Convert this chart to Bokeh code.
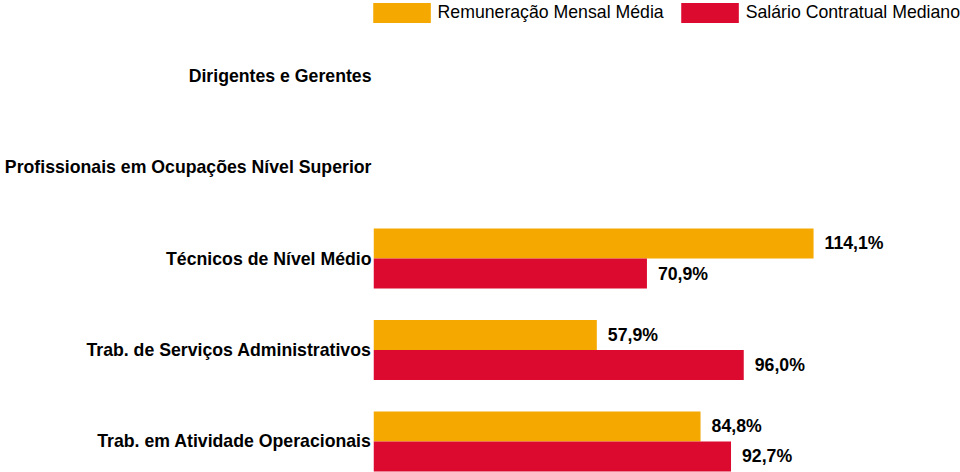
from bokeh.plotting import figure
from bokeh.resources import INLINE
from bokeh.embed import file_html
from bokeh.models import ColumnDataSource, Range1d, FixedTicker, Legend, LegendItem
from bokeh.transform import dodge
from bokeh.core.properties import value

nan = float("nan")

categorias = [
    "Dirigentes e Gerentes",
    "Profissionais em Ocupações Nível Superior",
    "Técnicos de Nível Médio",
    "Trab. de Serviços Administrativos",
    "Trab. em Atividade Operacionais",
]
remuneracao_media = [nan, nan, 114.1, 57.9, 84.8]
salario_mediano = [nan, nan, 70.9, 96.0, 92.7]
series = ["Remuneração Mensal Média", "Salário Contratual Mediano"]

LARANJA = "#F5A800"
VERMELHO = "#DC0A2E"
FONTE = "Liberation Sans"
TAM = "17.7px"


def rotulo(v):
    if v != v:
        return ""
    return f"{v:.1f}".replace(".", ",") + "%"


# categorias de cima para baixo
pos = [len(categorias) - 1 - i for i in range(len(categorias))]

src = ColumnDataSource(data=dict(
    pos=pos,
    rem=remuneracao_media,
    sal=salario_mediano,
    rem_txt=[rotulo(v) for v in remuneracao_media],
    sal_txt=[rotulo(v) for v in salario_mediano],
))

p = figure(width=960, height=472, output_backend="svg", toolbar_location=None,
           x_range=Range1d(0, 152.2), y_range=Range1d(-0.339, 4.82),
           x_axis_location=None, min_border_left=373, min_border_right=0,
           min_border_top=0, min_border_bottom=0)

alt = 0.328
r1 = p.hbar(y=dodge("pos", alt / 2, range=p.y_range), right="rem", left=0, height=alt,
            source=src, fill_color=LARANJA, line_color=None)
r2 = p.hbar(y=dodge("pos", -alt / 2, range=p.y_range), right="sal", left=0, height=alt,
            source=src, fill_color=VERMELHO, line_color=None)

for col, txt, d in (("rem", "rem_txt", alt / 2), ("sal", "sal_txt", -alt / 2)):
    p.text(x=col, y=dodge("pos", d, range=p.y_range), text=txt, source=src,
           x_offset=11, text_baseline="middle", text_align="left",
           text_font=value(FONTE), text_font_style="bold",
           text_font_size=TAM, text_color="#000000")

p.yaxis.ticker = FixedTicker(ticks=pos)
p.yaxis.major_label_overrides = {v: c for v, c in zip(pos, categorias)}
p.yaxis.axis_line_color = None
p.yaxis.major_tick_line_color = None
p.yaxis.minor_tick_line_color = None
p.yaxis.major_tick_in = 0
p.yaxis.major_tick_out = 0
p.yaxis.major_label_standoff = 2
p.yaxis.major_label_text_font = FONTE
p.yaxis.major_label_text_font_style = "bold"
p.yaxis.major_label_text_font_size = TAM
p.yaxis.major_label_text_color = "#000000"

p.xgrid.visible = False
p.ygrid.visible = False
p.outline_line_color = None

legenda = Legend(items=[LegendItem(label=series[0], renderers=[r1]),
                        LegendItem(label=series[1], renderers=[r2])],
                 location="top_right", orientation="horizontal",
                 border_line_color=None, background_fill_alpha=0,
                 padding=0, margin=0, spacing=10,
                 glyph_width=72, glyph_height=25, label_standoff=0,
                 label_text_font=FONTE, label_text_font_size=TAM,
                 label_text_color="#000000")
p.add_layout(legenda)

open("out.html", "w").write(file_html(p, INLINE))
